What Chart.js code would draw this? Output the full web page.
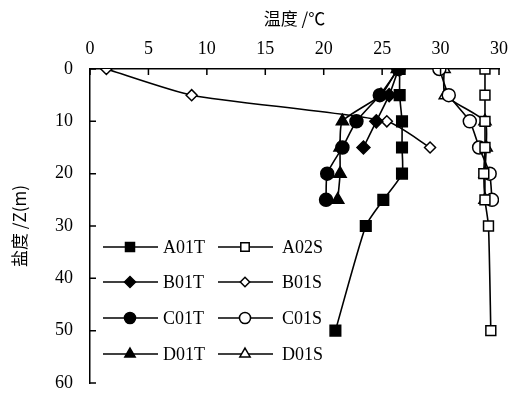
<!DOCTYPE html>
<html>
<head>
<meta charset="utf-8">
<script src="https://cdn.jsdelivr.net/npm/chart.js@4.4.1/dist/chart.umd.min.js"></script>
<style>
html, body { margin: 0; padding: 0; background: #fff; overflow: hidden; }
canvas { display: block; }
</style>
</head>
<body>
<canvas id="chart" width="508" height="396"></canvas>
<script>
// x axis ticks as printed (the last one reads 30 in the original)
const xTickLabels = ['0', '5', '10', '15', '20', '25', '30', '30'];

// depth (m)
const depthA01T = [0, 5, 10, 15, 20, 25, 30, 50];
const depthB01T = [0, 5, 10, 15];
const depthC01T = [0, 5, 10, 15, 20, 25];
const depthD01T = [0, 5, 10, 15, 20, 25];
const depthA02S = [0, 5, 10, 15, 20, 25, 30, 50];
const depthB01S = [0, 5, 10, 15];
const depthC01S = [0, 5, 10, 15, 20, 25];
const depthD01S = [0, 5, 10, 15, 20, 25];

// temperature (°C)
const tempA01T = [26.5, 26.5, 26.7, 26.7, 26.7, 25.1, 23.6, 21.0];
const tempB01T = [26.4, 25.6, 24.5, 23.4];
const tempC01T = [26.4, 24.8, 22.8, 21.6, 20.3, 20.2];
const tempD01T = [26.3, 24.9, 21.6, 21.4, 21.4, 21.2];

// salinity
const salA02S = [33.8, 33.8, 33.8, 33.8, 33.7, 33.8, 34.1, 34.3];
const salB01S = [1.4, 8.7, 25.4, 29.1];
const salC01S = [29.9, 30.7, 32.5, 33.3, 34.2, 34.4];
const salD01S = [30.3, 30.4, 33.8, 33.9, 33.8, 33.8];

function profile(values, depths) {
    return values.map((v, i) => ({ x: v, y: depths[i] }));
}

function serie(label, values, depths, style, radius, filled) {
    return {
        label: label,
        data: profile(values, depths),
        borderColor: '#000',
        borderWidth: 1.6,
        tension: 0.2,
        pointStyle: style,
        pointRadius: radius,
        pointHoverRadius: radius,
        pointBackgroundColor: filled ? '#000' : '#fff',
        pointBorderColor: '#000',
        pointBorderWidth: 1.5
    };
}

const datasets = [
    serie('A01T', tempA01T, depthA01T, 'rect', 7.5, true),
    serie('B01T', tempB01T, depthB01T, 'rectRot', 6.5, true),
    serie('C01T', tempC01T, depthC01T, 'circle', 6.5, true),
    serie('D01T', tempD01T, depthD01T, 'triangle', 7, true),
    serie('A02S', salA02S, depthA02S, 'rect', 7, false),
    serie('B01S', salB01S, depthB01S, 'rectRot', 5.5, false),
    serie('C01S', salC01S, depthC01S, 'circle', 6.5, false),
    serie('D01S', salD01S, depthD01S, 'triangle', 7, false)
];

// ticks pointing into the plot
const inwardTicks = {
    id: 'inwardTicks',
    afterDraw(chart) {
        const ctx = chart.ctx;
        const area = chart.chartArea;
        const sx = chart.scales.x, sy = chart.scales.y;
        ctx.save();
        ctx.strokeStyle = '#000';
        ctx.lineWidth = 1.5;
        ctx.beginPath();
        sx.ticks.forEach(t => {
            const px = sx.getPixelForValue(t.value);
            ctx.moveTo(px, area.top);
            ctx.lineTo(px, area.top + 6);
        });
        sy.ticks.forEach(t => {
            const py = sy.getPixelForValue(t.value);
            ctx.moveTo(area.left, py);
            ctx.lineTo(area.left + 6, py);
        });
        ctx.stroke();
        ctx.restore();
    }
};

// two column legend inside the plot
const legendBox = {
    id: 'legendBox',
    afterDraw(chart) {
        const ctx = chart.ctx;
        const cols = [{ x1: 103, x2: 158, mk: 130, tx: 163 }, { x1: 218, x2: 273, mk: 245, tx: 282 }];
        const rows = [247, 282, 318, 354];
        ctx.save();
        chart.data.datasets.forEach((ds, i) => {
            const c = cols[Math.floor(i / 4)];
            const y = rows[i % 4];
            ctx.strokeStyle = '#000';
            ctx.lineWidth = 1.6;
            ctx.beginPath();
            ctx.moveTo(c.x1, y);
            ctx.lineTo(c.x2, y);
            ctx.stroke();
            ctx.fillStyle = ds.pointBackgroundColor;
            ctx.lineWidth = 1.5;
            Chart.helpers.drawPoint(ctx, {
                pointStyle: ds.pointStyle,
                radius: ds.pointRadius * 0.85,
                rotation: 0,
                borderWidth: 1.5
            }, c.mk, y);
            ctx.fillStyle = '#000';
            ctx.font = '18px "Liberation Serif"';
            ctx.textAlign = 'left';
            ctx.textBaseline = 'middle';
            ctx.fillText(ds.label, c.tx, y + 1);
        });
        ctx.restore();
    }
};

Chart.defaults.font.family = '"Liberation Serif", serif';
Chart.defaults.color = '#000';

new Chart(document.getElementById('chart'), {
    type: 'line',
    data: { datasets: datasets },
    plugins: [inwardTicks, legendBox],
    options: {
        responsive: false,
        animation: false,
        layout: { padding: { left: 0, right: 9, top: 0, bottom: 13 } },
        plugins: { legend: { display: false }, tooltip: { enabled: false } },
        scales: {
            x: {
                type: 'linear',
                position: 'top',
                min: 0,
                max: 35,
                afterFit: s => {
                    s.height = 69;
                    s.paddingLeft = 0;
                    s.paddingRight = 0;
                },
                ticks: {
                    stepSize: 5,
                    padding: 9,
                    maxRotation: 0,
                    font: { size: 18 },
                    callback: (v, i) => xTickLabels[i]
                },
                grid: { display: false, drawTicks: false },
                border: { display: true, color: '#000', width: 1.5 },
                title: {
                    display: true,
                    text: '温度 /℃',
                    font: { family: '"Noto Sans CJK SC"', size: 17 },
                    padding: { top: 8, bottom: 0 }
                }
            },
            y: {
                type: 'linear',
                reverse: true,
                min: 0,
                max: 60,
                afterFit: s => {
                    s.width = 90;
                    s.paddingTop = 0;
                    s.paddingBottom = 0;
                },
                ticks: { stepSize: 10, padding: 17, font: { size: 18 } },
                grid: { display: false, drawTicks: false },
                border: { display: true, color: '#000', width: 1.5 },
                title: {
                    display: true,
                    text: '盐度 /Z(m)',
                    font: { family: '"Noto Sans CJK SC"', size: 17 },
                    padding: { top: 9, bottom: 0 }
                }
            }
        }
    }
});
</script>
</body>
</html>
